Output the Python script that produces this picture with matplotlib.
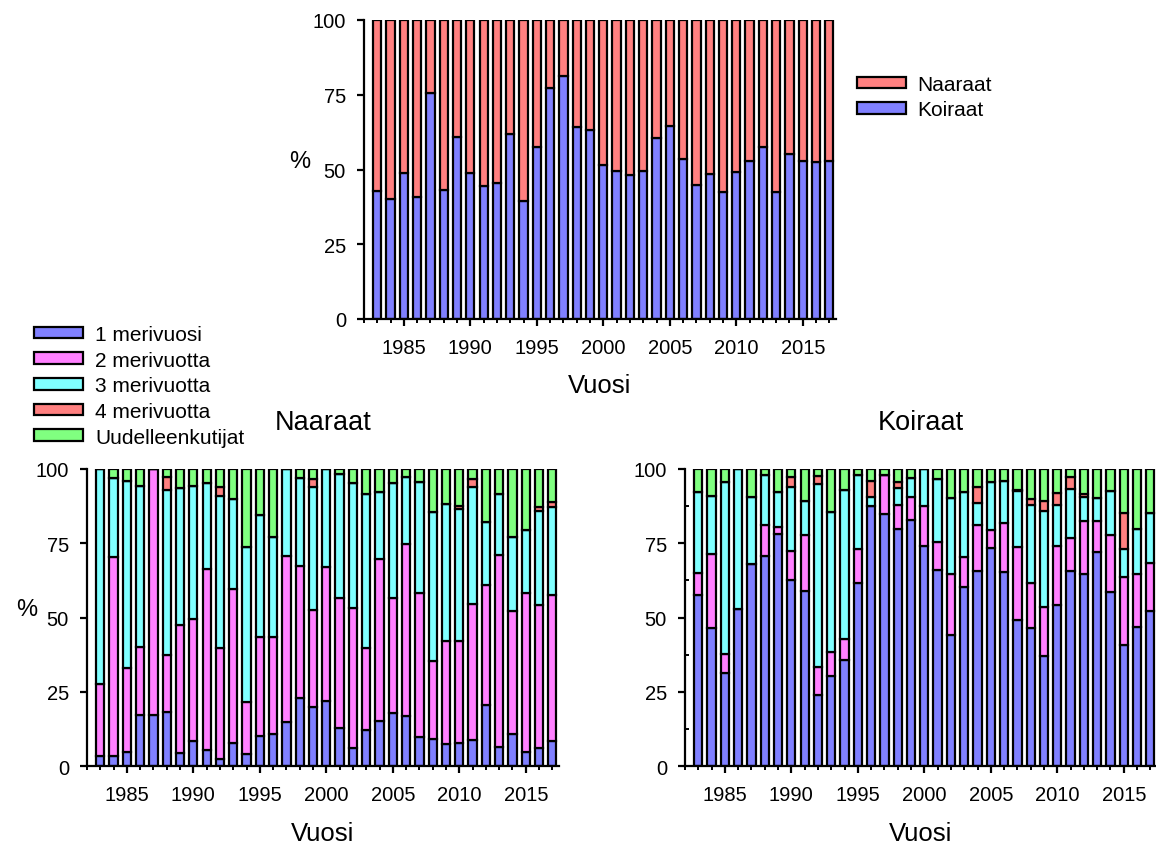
import matplotlib
matplotlib.use("Agg")
import matplotlib.pyplot as plt
import numpy as np
from matplotlib.ticker import MultipleLocator

plt.rcParams['font.family'] = ['Liberation Sans', 'DejaVu Sans']

years = np.arange(1983, 2018)

# osuus koiraista (%), naaraat = 100 - koiraat
koiraat = [42.7, 40.1, 48.8, 40.7, 75.7, 43.3, 60.8, 48.8, 44.6, 45.4,
           61.8, 39.6, 57.4, 77.2, 81.4, 64.1, 63.2, 51.5, 49.4, 48.2,
           49.6, 60.5, 64.4, 53.5, 44.8, 48.5, 42.6, 49.3, 53.0, 57.4,
           42.5, 55.2, 52.7, 52.4, 53.0]
naaraat = [100 - k for k in koiraat]

# Naaraat: merivuosiryhmat (%)
n_1mv = [3.6, 3.6, 4.7, 17.4, 17.4, 18.2, 4.5, 8.6, 5.6, 2.5,
         7.7, 4.3, 10.1, 10.8, 15.0, 22.9, 19.8, 21.9, 12.8, 6.2,
         12.3, 15.4, 17.9, 16.8, 10.0, 9.2, 7.5, 7.7, 8.9, 20.7,
         6.6, 10.9, 4.9, 6.3, 8.6]
n_2mv = [24.0, 66.7, 28.5, 22.8, 82.6, 19.2, 43.1, 41.0, 60.8, 37.3,
         51.9, 17.4, 33.3, 32.6, 55.9, 44.4, 32.9, 45.3, 43.7, 47.1,
         27.4, 54.3, 38.6, 58.0, 48.2, 26.3, 34.5, 34.3, 45.7, 40.3,
         64.5, 41.5, 53.4, 48.1, 49.0]
n_3mv = [72.4, 26.6, 62.9, 54.0, 0.0, 55.6, 45.9, 44.8, 28.9, 51.0,
         30.3, 52.0, 41.1, 33.8, 29.1, 29.6, 41.1, 32.8, 41.8, 41.9,
         51.9, 22.5, 38.7, 22.6, 37.3, 49.9, 46.2, 44.5, 39.2, 21.3,
         20.5, 24.8, 21.2, 31.6, 29.7]
n_4mv = [0, 0, 0, 0, 0, 4.2, 0, 0, 0, 3.2,
         0, 0, 0, 0, 0, 0, 2.8, 0, 0, 0,
         0, 0, 0, 0, 0, 0, 0, 1.2, 2.8, 0,
         0, 0, 0, 1.1, 1.7]
n_uk = [0, 3.1, 3.9, 5.8, 0, 2.8, 6.5, 5.6, 4.7, 6.0,
        10.1, 26.3, 15.5, 22.8, 0, 3.1, 3.4, 0, 1.7, 4.8,
        8.4, 7.8, 4.8, 2.6, 4.5, 14.6, 11.8, 12.3, 3.4, 17.7,
        8.4, 22.8, 20.5, 12.9, 11.0]

# Koiraat: merivuosiryhmat (%)
k_1mv = [57.6, 46.4, 31.4, 52.9, 68.0, 70.9, 78.1, 62.7, 59.1, 24.0,
         30.5, 35.8, 61.5, 87.4, 84.9, 79.8, 83.0, 74.2, 66.0, 44.2,
         60.2, 65.6, 73.4, 65.5, 49.3, 46.5, 37.2, 54.3, 65.6, 64.7,
         72.0, 58.5, 40.8, 46.7, 52.1]
k_2mv = [7.4, 25.0, 6.4, 0, 0, 10.3, 2.3, 9.8, 18.7, 9.5,
         7.8, 7.0, 11.6, 0, 13.1, 8.1, 7.7, 13.5, 9.3, 20.5,
         10.1, 15.6, 6.2, 16.3, 24.4, 15.0, 16.5, 19.7, 11.2, 17.7,
         10.4, 19.3, 23.0, 18.0, 16.3]
k_3mv = [27.4, 19.6, 57.7, 47.1, 22.5, 16.8, 12.0, 21.3, 11.5, 61.5,
         47.1, 50.1, 24.9, 3.1, 0, 5.6, 6.3, 12.3, 21.3, 25.4,
         22.1, 7.3, 16.1, 14.1, 18.8, 26.5, 32.1, 14.0, 16.5, 8.3,
         7.7, 14.9, 9.3, 15.1, 16.8]
k_4mv = [0, 0, 0, 0, 0, 0, 0, 3.4, 0, 2.5,
         0, 0, 0, 5.6, 0, 2.2, 0, 0, 0, 0,
         0, 5.6, 0, 0, 0.5, 1.9, 3.5, 3.9, 3.9, 0.9,
         0, 0, 12.1, 0, 0]
k_uk = [7.6, 9.0, 4.5, 0, 9.5, 2.0, 7.6, 2.8, 10.7, 2.5,
        14.6, 7.1, 2.0, 3.9, 2.0, 4.3, 3.0, 0, 3.4, 9.9,
        7.6, 5.9, 4.3, 4.1, 7.0, 10.1, 10.7, 8.1, 2.8, 8.4,
        9.9, 7.3, 14.8, 20.2, 14.8]

ryhmat = ['1 merivuosi', '2 merivuotta', '3 merivuotta', '4 merivuotta',
          'Uudelleenkutijat']
varit = ['#8080ff', '#ff80ff', '#80ffff', '#ff8080', '#80ff80']

W, H = 1156, 845
fig = plt.figure(figsize=(W / 100, H / 100), dpi=100)

def px(x0, y0, x1, y1):
    return [x0 / W, 1 - y1 / H, (x1 - x0) / W, (y1 - y0) / H]

ax_top = fig.add_axes(px(364, 21, 836, 320))
ax_n = fig.add_axes(px(87, 470, 559, 767.3))
ax_k = fig.add_axes(px(685, 470, 1157, 767.3))

bw = 0.62
ew = 1.6


def muotoile(ax, minor_y=False):
    ax.set_xlim(1982, 2017.5)
    ax.set_ylim(0, 100)
    for s in ['top', 'right']:
        ax.spines[s].set_visible(False)
    for s in ['left', 'bottom']:
        ax.spines[s].set_linewidth(1.6)
    ax.xaxis.set_major_locator(MultipleLocator(5))
    ax.xaxis.set_minor_locator(MultipleLocator(1))
    ax.yaxis.set_major_locator(MultipleLocator(25))
    ax.tick_params(axis='x', which='major', direction='out', length=5,
                   width=1.6, pad=8.5, labelsize=14.5)
    ax.tick_params(axis='x', which='minor', direction='out', length=3,
                   width=1.4)
    ax.tick_params(axis='y', which='major', direction='out', length=5,
                   width=1.6, pad=8, labelsize=14.5)
    if minor_y:
        ax.yaxis.set_minor_locator(MultipleLocator(12.5))
        ax.tick_params(axis='y', which='minor', direction='in', length=3,
                       width=1.4)
    ax.set_xlabel('Vuosi', fontsize=18.5, labelpad=12)


# ylin kuva: sukupuolijakauma
ax_top.bar(years, koiraat, bw, color=varit[0], edgecolor='black',
           linewidth=ew, label='Koiraat')
ax_top.bar(years, naaraat, bw, bottom=koiraat, color=varit[3],
           edgecolor='black', linewidth=ew, label='Naaraat')
muotoile(ax_top)
ax_top.text(-0.136, 0.53, '%', transform=ax_top.transAxes, fontsize=17,
            ha='center', va='center')
h, l = ax_top.get_legend_handles_labels()
fig.legend(h[::-1], l[::-1], loc='upper left',
           bbox_to_anchor=(857 / W, 1 - 76 / H), frameon=False,
           fontsize=15, borderpad=0, borderaxespad=0, handlelength=2.35,
           handleheight=0.48, handletextpad=0.55, labelspacing=0.3)


def pinottu(ax, sarjat):
    pohja = np.zeros(len(years))
    for arvot, nimi, vari in zip(sarjat, ryhmat, varit):
        ax.bar(years, arvot, bw, bottom=pohja, color=vari, edgecolor='black',
               linewidth=ew, label=nimi)
        pohja = pohja + np.array(arvot)


pinottu(ax_n, [n_1mv, n_2mv, n_3mv, n_4mv, n_uk])
muotoile(ax_n)
ax_n.set_title('Naaraat', fontsize=19.5, pad=29)
ax_n.text(-0.128, 0.53, '%', transform=ax_n.transAxes, fontsize=17,
          ha='center', va='center')

pinottu(ax_k, [k_1mv, k_2mv, k_3mv, k_4mv, k_uk])
muotoile(ax_k, minor_y=True)
ax_k.set_title('Koiraat', fontsize=19.5, pad=29)

h, l = ax_n.get_legend_handles_labels()
fig.legend(h, l, loc='upper left', bbox_to_anchor=(34 / W, 1 - 326 / H),
           frameon=False, fontsize=15, borderpad=0, borderaxespad=0,
           handlelength=2.35, handleheight=0.48, handletextpad=0.58,
           labelspacing=0.32)

fig.savefig('out.png', dpi=100)
